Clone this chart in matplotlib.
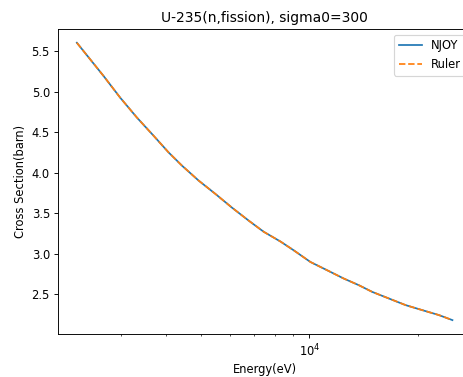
import matplotlib
matplotlib.use("Agg")
from matplotlib import pyplot as plt

# valores
energy = [2262, 2682, 2982, 3319, 3693, 4063, 4428, 4924, 5479, 6098, 6780, 7464, 8307,
          9045, 10064, 11200, 12451, 13709, 14940, 16610, 18490, 20570, 22880, 24930]
xs_njoy = [5.602, 5.193, 4.926, 4.680, 4.455, 4.250, 4.086, 3.902, 3.738, 3.567, 3.408, 3.270, 3.150,
           3.041, 2.897, 2.795, 2.693, 2.611, 2.528, 2.447, 2.365, 2.303, 2.242, 2.180]
xs_ruler = [5.602, 5.193, 4.926, 4.680, 4.455, 4.250, 4.086, 3.902, 3.738, 3.567, 3.408, 3.270, 3.150,
            3.041, 2.897, 2.795, 2.693, 2.611, 2.528, 2.447, 2.365, 2.303, 2.242, 2.180]

# dpi 83 para que todo salga a la escala de la referencia
dpi = 83
fig = plt.figure(figsize=(463.2 / dpi, 377.2 / dpi), dpi=dpi)
ax = fig.add_axes([0.1253, 0.114, 0.892, 0.809])

ax.plot(energy, xs_njoy, label="NJOY")
ax.plot(energy, xs_ruler, "--", label="Ruler")
ax.set_xscale("log")

ax.set_title("U-235(n,fission), sigma0=300")
ax.set_xlabel("Energy(eV)")
ax.set_ylabel("Cross Section(barn)")
ax.legend(loc="upper right")

fig.savefig("out.png", dpi=dpi)
